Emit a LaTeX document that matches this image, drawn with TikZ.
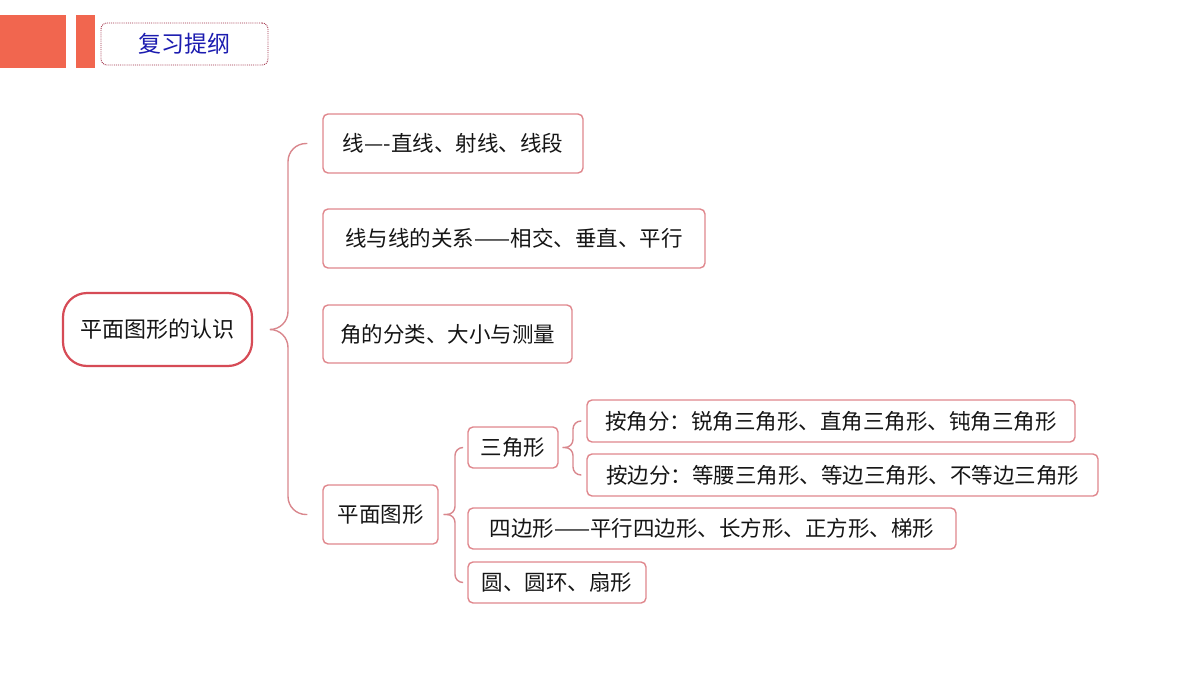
\documentclass[tikz,border=0pt]{standalone}
\usepackage{fontspec}
\newfontfamily\cjk{Noto Sans CJK SC}
\definecolor{accent}{HTML}{F1664F}
\definecolor{rootc}{HTML}{D64B56}
\definecolor{boxc}{HTML}{E0878D}
\definecolor{bracec}{HTML}{D9878D}
\definecolor{txt}{HTML}{151515}
\definecolor{titlec}{HTML}{1C1CB0}
\definecolor{dotc}{HTML}{A03048}
\newcommand\bx[7]{\node[#7, minimum width={#4-#2}, minimum height={#5-#3}] (#1) at ({(#2+#4)/2},{(#3+#5)/2}) {#6};}
\begin{document}
\begin{tikzpicture}[x=1pt,y=-1pt,
  box/.style={draw=boxc, line width=1.4pt, rounded corners=5pt, fill=white, text=txt, inner sep=0pt, font=\cjk\fontsize{21.5}{24}\selectfont},
  rootbox/.style={draw=rootc, line width=2.2pt, rounded corners=24pt, fill=white, text=txt, inner sep=0pt, font=\cjk\fontsize{22}{24}\selectfont},
  titlebox/.style={draw=dotc, densely dotted, line width=0.9pt, rounded corners=6pt, fill=white, text=titlec, inner sep=0pt, font=\cjk\fontsize{23}{26}\selectfont},
  brc/.style={draw=bracec, line width=1.4pt}]
\useasboundingbox (0,0) rectangle (1200,675);
\fill[accent] (0,15) rectangle (66,68);
\fill[accent] (76,15) rectangle (95,68);
\bx{title}{101}{23}{268}{65}{复习提纲}{titlebox}
\bx{root}{63}{293}{252}{366}{平面图形的认识}{rootbox}
\bx{a1}{323}{114}{583}{173}{线—-直线、射线、线段}{box}
\bx{a2}{323}{209}{705}{268}{线与线的关系——相交、垂直、平行}{box}
\bx{a3}{323}{305}{572}{363}{角的分类、大小与测量}{box}
\bx{a4}{323}{485}{438}{544}{平面图形}{box}
\bx{b1}{468}{427}{558}{468}{三角形}{box}
\bx{b2}{468}{508}{956}{549}{四边形——平行四边形、长方形、正方形、梯形}{box}
\bx{b3}{468}{562}{646}{603}{圆、圆环、扇形}{box}
\bx{c1}{587}{400}{1075}{442}{按角分：锐角三角形、直角三角形、钝角三角形}{box}
\bx{c2}{587}{454}{1098}{496}{按边分：等腰三角形、等边三角形、不等边三角形}{box}
% brace from root
\coordinate (rt) at ([xshift=17pt]root.east);
\coordinate (rv) at (288,0);
\draw[brc, rounded corners=18pt] ([xshift=-15pt]a1.west) -| (rv |- rt) -- (rt);
\draw[brc, rounded corners=18pt] ([xshift=-15pt]a4.west) -| (rv |- rt) -- (rt);
% brace from a4
\coordinate (pt) at ([xshift=5pt]a4.east);
\coordinate (pv) at (455,0);
\draw[brc, rounded corners=8pt] ([xshift=-5pt]b1.west) -| (pv |- pt) -- (pt);
\draw[brc, rounded corners=8pt] ([xshift=-5pt]b3.west) -| (pv |- pt) -- (pt);
% brace from b1
\coordinate (tt) at ([xshift=4pt]b1.east);
\coordinate (tv) at (573,0);
\draw[brc, rounded corners=8pt] ([xshift=-5pt]c1.west) -| (tv |- tt) -- (tt);
\draw[brc, rounded corners=8pt] ([xshift=-5pt]c2.west) -| (tv |- tt) -- (tt);
\end{tikzpicture}
\end{document}
